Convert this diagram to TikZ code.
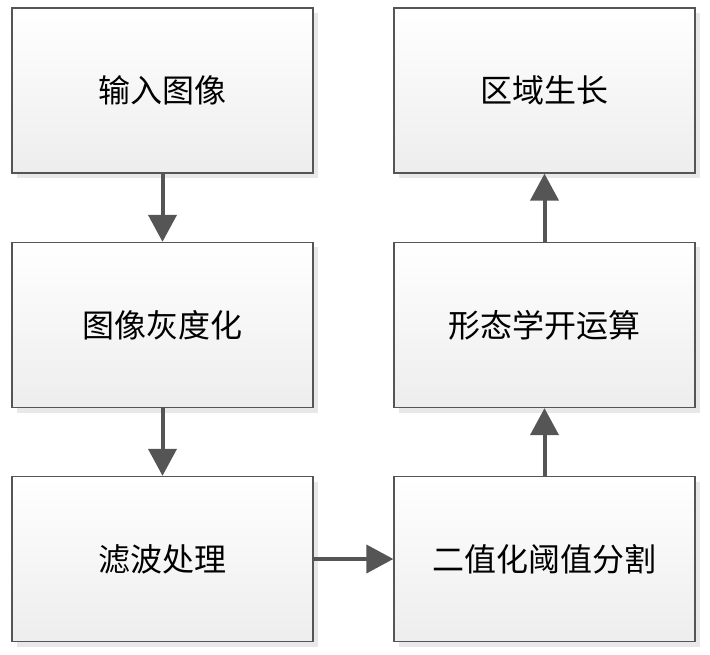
\documentclass[tikz,border=0pt]{standalone}
\usepackage{fontspec}
\newfontfamily\cjk{Noto Sans CJK SC}
\usetikzlibrary{arrows.meta,shadows}
\definecolor{linegray}{RGB}{85,85,85}
\begin{document}
\begin{tikzpicture}[x=1pt,y=-1pt,
    stepbox/.style={draw=linegray, line width=1.3pt, minimum width=301pt, minimum height=165pt,
      top color=white, bottom color=gray!14,
      drop shadow={shadow xshift=5pt, shadow yshift=-5pt, fill=gray!18, opacity=1},
      font=\cjk\fontsize{32}{38}\selectfont},
    flow/.style={draw=linegray, line width=4pt, -{Triangle[length=27pt,width=28pt]}}]
    \useasboundingbox (0,0) rectangle (710,655);

    \node[stepbox] (input) at (162.5,90.5) {输入图像};
    \node[stepbox] (gray) at (162.5,325) {图像灰度化};
    \node[stepbox] (filter) at (162.5,559) {滤波处理};
    \node[stepbox] (thresh) at (544.5,559) {二值化阈值分割};
    \node[stepbox] (morph) at (544.5,325) {形态学开运算};
    \node[stepbox] (grow) at (544.5,90.5) {区域生长};

    \draw[flow] (input) -- (gray);
    \draw[flow] (gray) -- (filter);
    \draw[flow] (filter) -- (thresh);
    \draw[flow] (thresh) -- (morph);
    \draw[flow] (morph) -- (grow);

  \end{tikzpicture}
\end{document}
